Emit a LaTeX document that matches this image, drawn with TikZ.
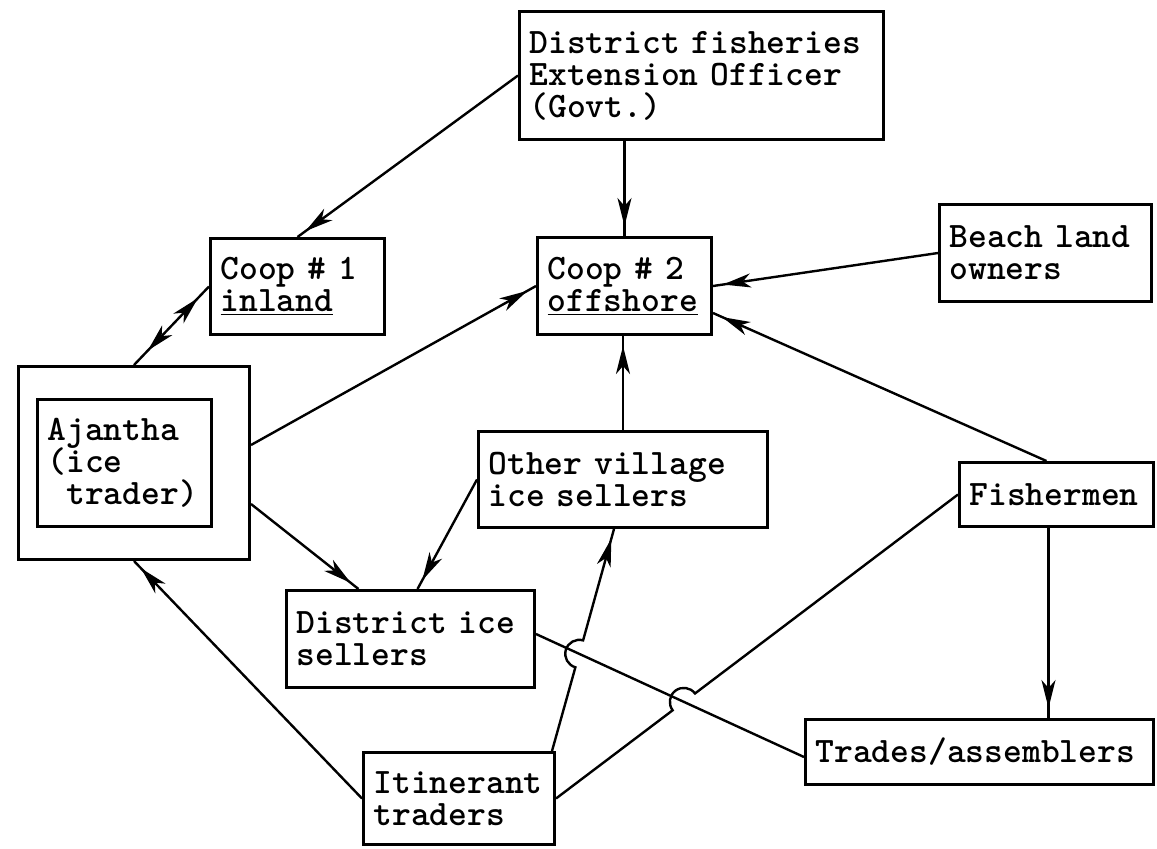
\documentclass[tikz,border=0pt]{standalone}
\usetikzlibrary{arrows.meta,calc,intersections,decorations.markings}
\newcommand\tagfont{\fontsize{17.9pt}{16pt}\selectfont\ttfamily\bfseries\lineskiplimit=-20pt\relax}

\begin{document}
\begin{tikzpicture}[x=0.5pt,y=0.5pt,>={Stealth[length=14pt,width=7pt,inset=4pt]}]
    \tikzstyle{actor}=[draw,line width=1.5pt,anchor=north west,align=left,inner xsep=5pt,inner ysep=0pt,font=\tagfont]
    \tikzstyle{link}=[line width=1.2pt]
    \tikzstyle{flow}=[link,postaction={decorate},decoration={markings,mark=at position -5pt with {\arrow{>}}}]
    \tikzstyle{both}=[link,postaction={decorate},decoration={markings,mark=at position 10pt with {\arrowreversed{>}},mark=at position -8pt with {\arrow{>}}}]
    \useasboundingbox (0,0) rectangle (1157,-848);

    \node[actor,text width=172pt,minimum height=64pt] (dfeo) at (518,-10) {District fisheries\\Extension Officer\\(Govt.)};
    \node[actor,text width=77pt,minimum height=48pt] (coopA) at (209,-237) {Coop \# 1\\\underline{inland}};
    \node[actor,text width=77pt,minimum height=48.5pt] (coopB) at (536,-236) {Coop \# 2\\\underline{offshore}};
    \node[actor,text width=96pt,minimum height=48.5pt] (beach) at (938,-203) {Beach land\\owners};
    \node[actor,minimum width=115.5pt,minimum height=96.5pt,inner sep=0pt] (ajantha) at (17,-365) {};
    \node[actor,text width=77pt,minimum height=63.5pt] (ajanthaIn) at (36,-398) {Ajantha\\(ice\\\phantom{(}trader)};
    \node[actor,text width=134.5pt,minimum height=48pt] (other) at (477,-430) {Other village\\ice sellers};
    \node[actor,text width=87pt,minimum height=32pt] (fisher) at (958,-461) {Fishermen};
    \node[actor,text width=114pt,minimum height=48.5pt] (dis) at (285,-589) {District ice\\sellers};
    \node[actor,text width=164pt,minimum height=32.5pt] (trades) at (804,-718) {Trades/assemblers};
    \node[actor,text width=85.5pt,minimum height=46pt] (itin) at (362,-751) {Itinerant\\traders};

    \draw[flow] (dfeo.west) -- (coopA.north);
    \draw[flow] (dfeo.south -| coopB.north) -- (coopB.north);
    \draw[flow] (beach.west) -- (coopB.east);
    \draw[both] (ajantha.north) -- (coopA.west);
    \draw[flow] ($(ajantha.east)+(0,18)$) -- (coopB.west);
    \draw[flow] ($(ajantha.east)+(0,-41)$) -- ($(dis.north)+(-52,0)$);
    \draw[flow] (other.west) -- ($(dis.north)+(7,0)$);
    \draw[flow] (other.north) -- (other.north |- coopB.south);
    \draw[flow] ($(fisher.north)+(-10,0)$) -- ($(coopB.east)+(0,-27)$);
    \draw[flow] ($(fisher.south)+(-8,0)$) coordinate (fs) -- (fs |- trades.north);
    \draw[flow] (itin.west) -- (ajantha.south);
    \draw[link,name path=dt] ($(dis.east)+(0,5)$) -- ($(trades.west)+(0,-5)$);

    \coordinate (ioS) at ($(itin.north east)+(-4,0)$);
    \coordinate (ioE) at ($(other.south)+(-9,0)$);
    \path[name path=io] (ioS) -- (ioE);
    \path[name path=if] (itin.east) -- (fisher.west);
    \path[name intersections={of=dt and io,by=hopA}];
    \path[name intersections={of=dt and if,by=hopB}];
    \draw[flow] (ioS) -- ($(hopA)!7pt!(ioS)$) arc[start angle=254,end angle=74,radius=7pt] -- (ioE);
    \draw[link] (itin.east) -- ($(hopB)!7pt!(itin.east)$) arc[start angle=217,end angle=37,radius=7pt] -- (fisher.west);
\end{tikzpicture}
\end{document}
